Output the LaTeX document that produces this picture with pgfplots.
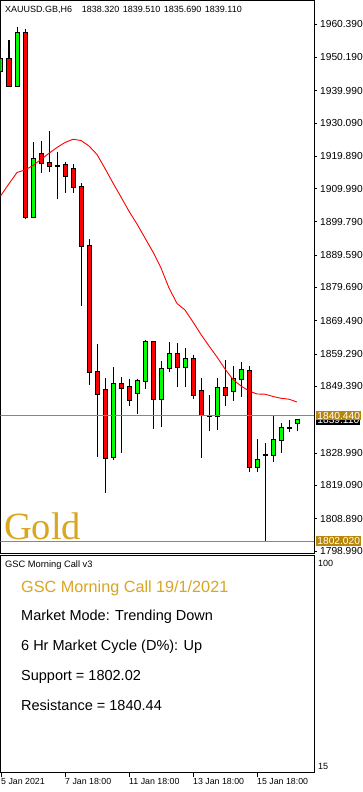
\documentclass[border=0pt]{standalone}
\usepackage{pgfplots}
\pgfplotsset{compat=1.18}
\usepackage{pgfplotstable}
\usepackage{fontspec}
\setmainfont{Liberation Sans}
\newfontfamily\goldfont{Liberation Serif}
\definecolor{dgold}{HTML}{B8860B}
\definecolor{gold2}{HTML}{DAA520}
\definecolor{mtgreen}{HTML}{00FF00}

\pgfplotstableread{
x o h l c
1 1949.58 1955.49 1941.19 1941.49
3 1957.54 1958.86 1900.66 1901.19
5 1920.48 1924.55 1914.66 1917.72
6 1917.72 1927.62 1914.97 1916.90
7 1916.85 1921.28 1906.70 1916.85
8 1917.11 1918.12 1908.72 1913.74
9 1915.89 1917.51 1908.54 1910.37
10 1910.37 1911.60 1874.02 1892.40
11 1892.40 1894.45 1849.73 1853.80
12 1853.71 1862.38 1827.86 1847.07
13 1848.20 1851.87 1816.65 1827.56
15 1850.04 1852.18 1828.90 1848.82
16 1849.12 1851.66 1843.30 1845.14
19 1862.90 1862.90 1836.44 1845.53
22 1859.23 1862.69 1849.12 1855.24
24 1857.79 1859.01 1845.44 1846.67
25 1847.89 1851.97 1827.56 1840.54
26 1840.24 1846.76 1835.83 1840.24
28 1848.82 1857.48 1843.39 1846.67
31 1854.02 1855.64 1823.09 1824.62
33 1828.47 1831.97 1802.02 1828.47
36 1836.60 1838.99 1835.52 1836.60
}\redc

\pgfplotstableread{
x o h l c
0 1946.09 1952.95 1944.77 1949.58
2 1941.31 1959.56 1941.19 1957.54
4 1901.19 1924.16 1900.97 1918.95
14 1827.68 1855.24 1826.76 1850.04
17 1847.28 1851.66 1841.03 1851.05
18 1850.96 1863.60 1848.51 1862.99
20 1845.53 1857.17 1837.05 1854.72
21 1854.94 1862.99 1853.90 1859.23
23 1855.24 1861.07 1849.30 1857.79
27 1840.24 1851.97 1836.13 1848.82
29 1847.89 1855.64 1845.02 1851.57
30 1851.57 1856.87 1846.24 1854.33
32 1824.62 1833.30 1823.09 1826.76
34 1828.29 1840.44 1826.33 1832.89
35 1832.89 1838.09 1829.09 1836.57
37 1838.32 1839.51 1835.69 1839.11
}\greenc

\pgfplotstableread{
x y
-0.0625 1907.70
0 1907.92
1 1911.48
2 1914.91
3 1915.67
4 1917.05
5 1918.89
6 1920.79
7 1922.57
8 1924.10
9 1925.08
10 1924.71
11 1923.02
12 1920.42
13 1916.13
14 1911.69
15 1907.40
16 1903.03
17 1899.13
18 1894.85
19 1890.56
20 1885.66
21 1879.53
22 1874.79
23 1872.80
24 1869.12
25 1865.29
26 1861.77
27 1858.40
28 1854.72
29 1851.51
30 1849.52
31 1847.99
32 1847.07
33 1847.00
34 1846.30
35 1845.75
36 1845.47
37 1844.61
}\ma

\pgfplotsset{
  candle/.style 2 args={draw=none, no markers,
    error bars/.cd, y dir=minus, y explicit, error mark=none,
    error bar style={draw=#1, line width=#2}},
}

\begin{document}
\begin{tikzpicture}[x=1pt,y=1pt]
\fill[white] (0,0) rectangle (363,792);
\path[use as bounding box] (0,0) rectangle (363,792);

\begin{axis}[name=main, at={(0.5pt,238pt)}, anchor=south west, scale only axis,
  width=313.5pt, height=553.5pt,
  xmin=-0.0625, xmax=39.125, ymin=1798.06, ymax=1967.588,
  clip mode=individual,
  axis line style={black, line width=1pt},
  xtick=\empty,
  ytick={1960.39,1950.19,1939.99,1930.09,1919.89,1909.99,1899.79,1889.59,1879.69,1869.49,1859.29,1849.39,1828.99,1819.09,1808.89,1798.99},
  yticklabels={1960.390,1950.190,1939.990,1930.090,1919.890,1909.990,1899.790,1889.590,1879.690,1869.490,1859.290,1849.390,1828.990,1819.090,1808.890,1798.990},
  ytick pos=right, tick align=outside, major tick length=3pt,
  tick style={black, line width=0.8pt},
  yticklabel style={anchor=west, inner sep=0pt, xshift=3pt, font=\fontsize{10.2}{12}\selectfont},
]
% wicks
\addplot[candle={black}{1pt}]
  table[x=x, y=h, y error minus expr=\thisrow{h}-\thisrow{l}]{\redc};
\addplot[candle={black}{1pt}]
  table[x=x, y=h, y error minus expr=\thisrow{h}-\thisrow{l}]{\greenc};
% bodies (outline)
\addplot[candle={black}{5pt}]
  table[x=x, y expr=\thisrow{o}+0.3, y error minus expr=\thisrow{o}-\thisrow{c}+0.6]{\redc};
\addplot[candle={black}{5pt}]
  table[x=x, y expr=\thisrow{c}+0.3, y error minus expr=\thisrow{c}-\thisrow{o}+0.6]{\greenc};
% bodies (fill)
\addplot[candle={red}{3pt}]
  table[x=x, y=o, y error minus expr=\thisrow{o}-\thisrow{c}]{\redc};
\addplot[candle={mtgreen}{3pt}]
  table[x=x, y=c, y error minus expr=\thisrow{c}-\thisrow{o}]{\greenc};
% moving average
\addplot[red, line width=0.9pt, mark=none] table[x=x, y=y]{\ma};
% support / resistance
\addplot[dgold, line width=1pt, mark=none] coordinates {(-0.0625,1840.44) (39.125,1840.44)};
\addplot[dgold, line width=1pt, mark=none] coordinates {(-0.0625,1802.02) (39.125,1802.02)};

\node[fill=black, text=white, anchor=west, xshift=2pt, inner xsep=1.25pt, inner ysep=0pt,
  minimum height=9.5pt, text height=7.3pt, text depth=0pt, font=\fontsize{10.2}{12}\selectfont]
  at (axis cs:39.125,1839.11) {1839.110};
\node[fill=dgold, text=white, anchor=west, xshift=2pt, inner xsep=1.25pt, inner ysep=0pt,
  minimum height=9.5pt, text height=7.3pt, text depth=0pt, font=\fontsize{10.2}{12}\selectfont]
  at (axis cs:39.125,1840.44) {1840.440};
\node[fill=dgold, text=white, anchor=west, xshift=2pt, inner xsep=1.25pt, inner ysep=0pt,
  minimum height=9.5pt, text height=7.3pt, text depth=0pt, font=\fontsize{10.2}{12}\selectfont]
  at (axis cs:39.125,1802.02) {1802.020};
\end{axis}

\begin{axis}[name=lower, at={(0.5pt,19pt)}, anchor=south west, scale only axis,
  width=313.5pt, height=217pt,
  xmin=-0.0625, xmax=39.125, ymin=12.07, ymax=102.93,
  axis line style={black, line width=1pt},
  xtick={0,8,16,24,32},
  xticklabels={5 Jan 2021,7 Jan 18:00,11 Jan 18:00,13 Jan 18:00,15 Jan 18:00},
  xtick pos=bottom, ytick={15,100}, yticklabels={15,100}, ytick pos=right,
  tick align=outside, major tick length=4pt,
  tick style={black, line width=0.8pt},
  ytick style={draw=none},
  xticklabel style={anchor=north west, inner sep=0pt, yshift=-1pt, font=\fontsize{8.8}{10}\selectfont},
  yticklabel style={anchor=west, inner sep=0pt, font=\fontsize{9}{10}\selectfont},
]
\addplot[draw=none, mark=none] coordinates {(0,50) (1,50)};
\end{axis}

% header
\node[anchor=base west, inner sep=0pt, font=\fontsize{9}{10}\selectfont] at (5,779.7) {XAUUSD.GB,H6};
\node[anchor=base west, inner sep=0pt, font=\fontsize{9}{10}\selectfont] at (81.7,779.7) {1838.320};
\node[anchor=base west, inner sep=0pt, font=\fontsize{9}{10}\selectfont] at (122.7,779.7) {1839.510};
\node[anchor=base west, inner sep=0pt, font=\fontsize{9}{10}\selectfont] at (163.7,779.7) {1835.690};
\node[anchor=base west, inner sep=0pt, font=\fontsize{9}{10}\selectfont] at (204.7,779.7) {1839.110};

% Gold watermark
\node[anchor=base west, inner sep=0pt, text=gold2, font=\goldfont\fontsize{38.5}{40}\selectfont] at (4,252) {Gold};

% lower panel texts
\node[anchor=base west, inner sep=0pt, font=\fontsize{9.3}{10}\selectfont] at (5,224.3) {GSC Morning Call v3};
\node[anchor=base west, inner sep=0pt, text=gold2, font=\fontsize{16.2}{18}\selectfont] at (21,199) {GSC Morning Call 19/1/2021};
\node[anchor=base west, inner sep=0pt, font=\fontsize{14.5}{16}\selectfont] at (21,171.5) {Market Mode: Trending Down};
\node[anchor=base west, inner sep=0pt, font=\fontsize{14.5}{16}\selectfont] at (21,141.5) {6 Hr Market Cycle (D\%): Up};
\node[anchor=base west, inner sep=0pt, font=\fontsize{14.5}{16}\selectfont] at (21,111.5) {Support = 1802.02};
\node[anchor=base west, inner sep=0pt, font=\fontsize{14.5}{16}\selectfont] at (21,81.5) {Resistance = 1840.44};
\end{tikzpicture}
\end{document}
